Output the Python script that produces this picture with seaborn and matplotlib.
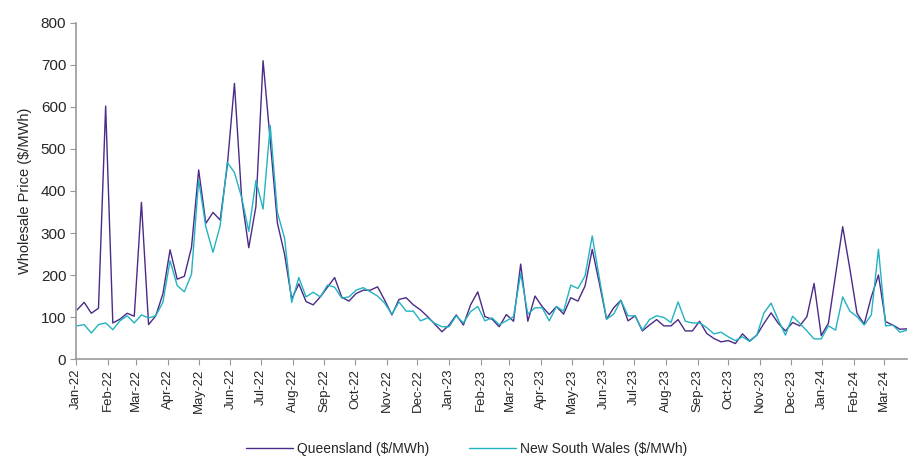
"""Weekly wholesale electricity prices, Queensland vs New South Wales."""

import matplotlib

matplotlib.use("Agg")

import matplotlib.dates as mdates
import matplotlib.pyplot as plt
import pandas as pd
import seaborn as sns

# weekly prices ($/MWh), first week of Jan-22 to late Mar-24
START_DATE = "2022-01-02"
QUEENSLAND = [
    117, 135, 109, 121, 602, 86, 95, 109, 102, 373, 82, 103, 155, 260, 190, 197,
    266, 450, 323, 349, 331, 460, 656, 385, 265, 363, 710, 520, 324, 250, 143, 179,
    137, 129, 148, 171, 194, 147, 138, 156, 164, 164, 172, 140, 105, 142, 146, 129,
    117, 101, 83, 65, 81, 105, 81, 129, 160, 101, 95, 77, 106, 90, 226, 90,
    150, 125, 106, 125, 107, 146, 138, 174, 261, 180, 95, 122, 140, 91, 103, 67,
    81, 94, 79, 79, 94, 67, 67, 90, 61, 49, 41, 44, 37, 60, 43, 57,
    85, 110, 85, 67, 87, 79, 101, 180, 56, 85, 200, 315, 215, 109, 83, 148,
    200, 89, 81, 71, 72,
]
NEW_SOUTH_WALES = [
    79, 82, 62, 82, 86, 70, 91, 103, 86, 105, 98, 103, 135, 234, 175, 160,
    202, 426, 315, 254, 317, 468, 444, 385, 304, 425, 357, 556, 349, 288, 135, 194,
    148, 159, 148, 176, 171, 145, 148, 164, 170, 160, 150, 133, 107, 136, 114, 114,
    91, 98, 85, 77, 77, 103, 86, 113, 125, 91, 98, 82, 91, 101, 204, 107,
    122, 122, 91, 125, 114, 176, 168, 198, 293, 192, 95, 107, 140, 103, 103, 69,
    94, 103, 99, 87, 136, 90, 86, 86, 75, 60, 64, 53, 44, 53, 42, 57,
    110, 133, 93, 57, 102, 85, 67, 48, 48, 79, 69, 148, 114, 101, 81, 105,
    261, 79, 81, 64, 69,
]
SERIES_NAMES = ["Queensland ($/MWh)", "New South Wales ($/MWh)"]
SERIES_COLOURS = ["#4b2a88", "#22b3c0"]
Y_TICKS = [0, 100, 200, 300, 400, 500, 600, 700, 800]
Y_LABEL = "Wholesale Price ($/MWh)"


def build_frame() -> pd.DataFrame:
    """Long-form frame for seaborn."""
    dates = pd.date_range(START_DATE, periods=len(QUEENSLAND), freq="7D")
    wide = pd.DataFrame(
        {SERIES_NAMES[0]: QUEENSLAND, SERIES_NAMES[1]: NEW_SOUTH_WALES}, index=dates
    )
    wide.index.name = "date"
    return wide.reset_index().melt(id_vars="date", var_name="series", value_name="price")


def main() -> None:
    sns.set_style("white")
    plt.rcParams["font.family"] = ["Liberation Sans", "DejaVu Sans"]

    data = build_frame()
    fig = plt.figure(figsize=(9.08, 4.58), dpi=100)
    ax = fig.add_axes([0.0837, 0.216, 0.9153, 0.734])

    sns.lineplot(
        data=data,
        x="date",
        y="price",
        hue="series",
        palette=dict(zip(SERIES_NAMES, SERIES_COLOURS)),
        linewidth=1.0,
        ax=ax,
    )

    ax.set_xlim(pd.Timestamp("2022-01-01"), data["date"].max())
    ax.set_ylim(0, 800)
    ax.set_yticks(Y_TICKS)
    ax.xaxis.set_major_locator(mdates.MonthLocator())
    ax.xaxis.set_major_formatter(mdates.DateFormatter("%b-%y"))
    ax.tick_params(axis="x", labelrotation=90, labelsize=9.5, length=4, color="#999999",
                   direction="out", bottom=True, pad=3)
    ax.tick_params(axis="y", labelsize=11, length=4, color="#999999",
                   direction="out", left=True, pad=3)
    ax.set_xlabel("")
    ax.set_ylabel(Y_LABEL, fontsize=10.5, labelpad=6)

    sns.despine(ax=ax)
    for side in ("left", "bottom"):
        ax.spines[side].set_color("#999999")
        ax.spines[side].set_linewidth(1.2)

    handles, labels = ax.get_legend_handles_labels()
    ax.legend(
        handles, labels,
        loc="lower center",
        bbox_to_anchor=(0.470, -0.325),
        ncol=2,
        frameon=False,
        fontsize=10,
        handlelength=3.4,
        handletextpad=0.3,
        columnspacing=2.8,
    )

    fig.savefig("out.png", dpi=100)
    plt.close(fig)


if __name__ == "__main__":
    main()
